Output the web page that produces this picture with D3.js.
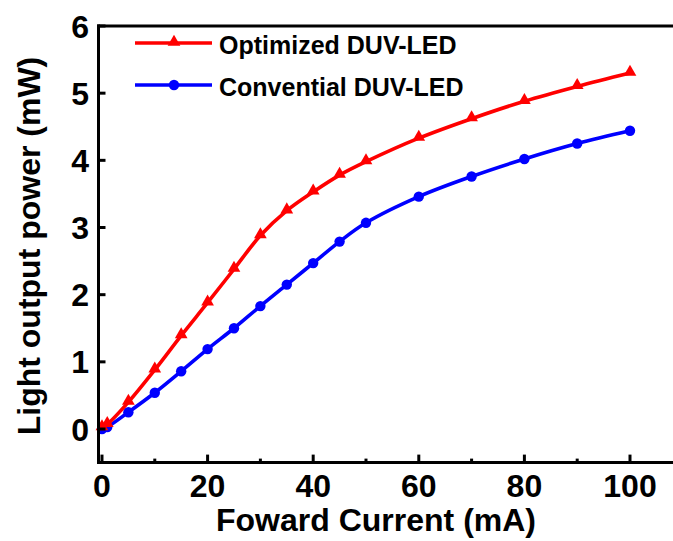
<!DOCTYPE html>
<html>
<head>
<meta charset="utf-8">
<script src="https://cdn.jsdelivr.net/npm/d3@7"></script>
<style>
  html, body { margin: 0; padding: 0; background: #fff; }
  svg { display: block; font-family: "Liberation Sans", Arial, sans-serif; font-weight: bold; }
</style>
</head>
<body>
<svg id="chart" width="673" height="541"></svg>
<script>
// Forward current (mA) at each measurement
const current = [0, 1, 5, 10, 15, 20, 25, 30, 35, 40, 45, 50, 60, 70, 80, 90, 100];
// Light output power (mW)
const optimizedPower  = [0.02, 0.07, 0.40, 0.88, 1.39, 1.88, 2.38, 2.88, 3.25, 3.53, 3.78, 3.98, 4.33, 4.62, 4.88, 5.10, 5.30];
const conventionalPower = [0.00, 0.03, 0.25, 0.54, 0.86, 1.19, 1.50, 1.83, 2.15, 2.47, 2.79, 3.07, 3.46, 3.76, 4.02, 4.25, 4.44];

const seriesNames = ["Optimized DUV-LED", "Convential DUV-LED"];
const seriesColors = ["#ff0000", "#0000ff"];
const seriesMarkers = ["triangle", "circle"];

const xMajorTicks = [0, 20, 40, 60, 80, 100];
const xMinorTicks = [10, 30, 50, 70, 90];
const yTicks = [0, 1, 2, 3, 4, 5, 6];

const xTitle = "Foward Current (mA)";
const yTitle = "Light output power (mW)";

const svg = d3.select("#chart");

const x = d3.scaleLinear().domain([-0.66, 110]).range([98.5, 682.8]);
const y = d3.scaleLinear().domain([-0.5, 6]).range([462.6, 26]);

const axisColor = "#000";
const axisWidth = 3;

// Data series
const series = [
  { name: seriesNames[0], color: seriesColors[0], marker: seriesMarkers[0], values: optimizedPower },
  { name: seriesNames[1], color: seriesColors[1], marker: seriesMarkers[1], values: conventionalPower }
];

const line = d3.line()
  .x(d => x(d[0]))
  .y(d => y(d[1]))
  .curve(d3.curveCatmullRom.alpha(0.5));

const triangle = d3.symbol().type(d3.symbolTriangle).size(70);

function drawMarker(g, type, color) {
  if (type === "triangle") {
    g.append("path").attr("d", triangle()).attr("fill", color).attr("transform", "translate(0,-1)");
  } else {
    g.append("circle").attr("r", 5.2).attr("fill", color);
  }
}

// Draw blue first so red sits above at the origin overlap
[series[1], series[0]].forEach(s => {
  const pts = current.map((c, i) => [c, s.values[i]]);
  svg.append("path")
    .attr("d", line(pts))
    .attr("fill", "none")
    .attr("stroke", s.color)
    .attr("stroke-width", 3.6)
    .attr("stroke-linejoin", "round");
  pts.forEach(p => {
    const g = svg.append("g").attr("transform", `translate(${x(p[0])},${y(p[1])})`);
    drawMarker(g, s.marker, s.color);
  });
});

// Axes frame: left, bottom, top
const axisG = svg.append("g");
const x0 = x.range()[0], x1 = 673;
const yb = y.range()[0], yt = y.range()[1];
axisG.append("line").attr("x1", x0).attr("x2", x0).attr("y1", yt - 1.5).attr("y2", yb + 1.5)
  .attr("stroke", axisColor).attr("stroke-width", axisWidth);
axisG.append("line").attr("x1", x0 - 1.5).attr("x2", x1).attr("y1", yb).attr("y2", yb)
  .attr("stroke", axisColor).attr("stroke-width", axisWidth);
axisG.append("line").attr("x1", x0 - 1.5).attr("x2", x1).attr("y1", yt).attr("y2", yt)
  .attr("stroke", axisColor).attr("stroke-width", axisWidth);

// X ticks (inward)
xMajorTicks.forEach(t => {
  axisG.append("line").attr("x1", x(t)).attr("x2", x(t)).attr("y1", yb).attr("y2", yb - 8)
    .attr("stroke", axisColor).attr("stroke-width", 3);
  axisG.append("text").attr("x", x(t)).attr("y", 497)
    .attr("text-anchor", "middle").attr("font-size", 32).text(t);
});
xMinorTicks.forEach(t => {
  axisG.append("line").attr("x1", x(t)).attr("x2", x(t)).attr("y1", yb).attr("y2", yb - 4)
    .attr("stroke", axisColor).attr("stroke-width", 3);
});

// Y ticks (inward)
yTicks.forEach(t => {
  axisG.append("line").attr("x1", x0).attr("x2", x0 + 7).attr("y1", y(t)).attr("y2", y(t))
    .attr("stroke", axisColor).attr("stroke-width", 3);
  axisG.append("text").attr("x", 89).attr("y", y(t)).attr("dy", "0.36em")
    .attr("text-anchor", "end").attr("font-size", 32).text(t);
});

// Axis titles
svg.append("text").attr("x", 376).attr("y", 531)
  .attr("text-anchor", "middle").attr("font-size", 32).text(xTitle);
svg.append("text").attr("transform", "translate(40,246) rotate(-90)")
  .attr("text-anchor", "middle").attr("font-size", 32).text(yTitle);

// Legend
const legendRows = [43, 85];
series.forEach((s, i) => {
  const ly = legendRows[i];
  svg.append("line").attr("x1", 135).attr("x2", 212).attr("y1", ly).attr("y2", ly)
    .attr("stroke", s.color).attr("stroke-width", 3.6);
  const g = svg.append("g").attr("transform", `translate(174,${ly})`);
  drawMarker(g, s.marker, s.color);
  svg.append("text").attr("x", 219).attr("y", ly + 11)
    .attr("font-size", 25).text(s.name);
});
</script>
</body>
</html>
